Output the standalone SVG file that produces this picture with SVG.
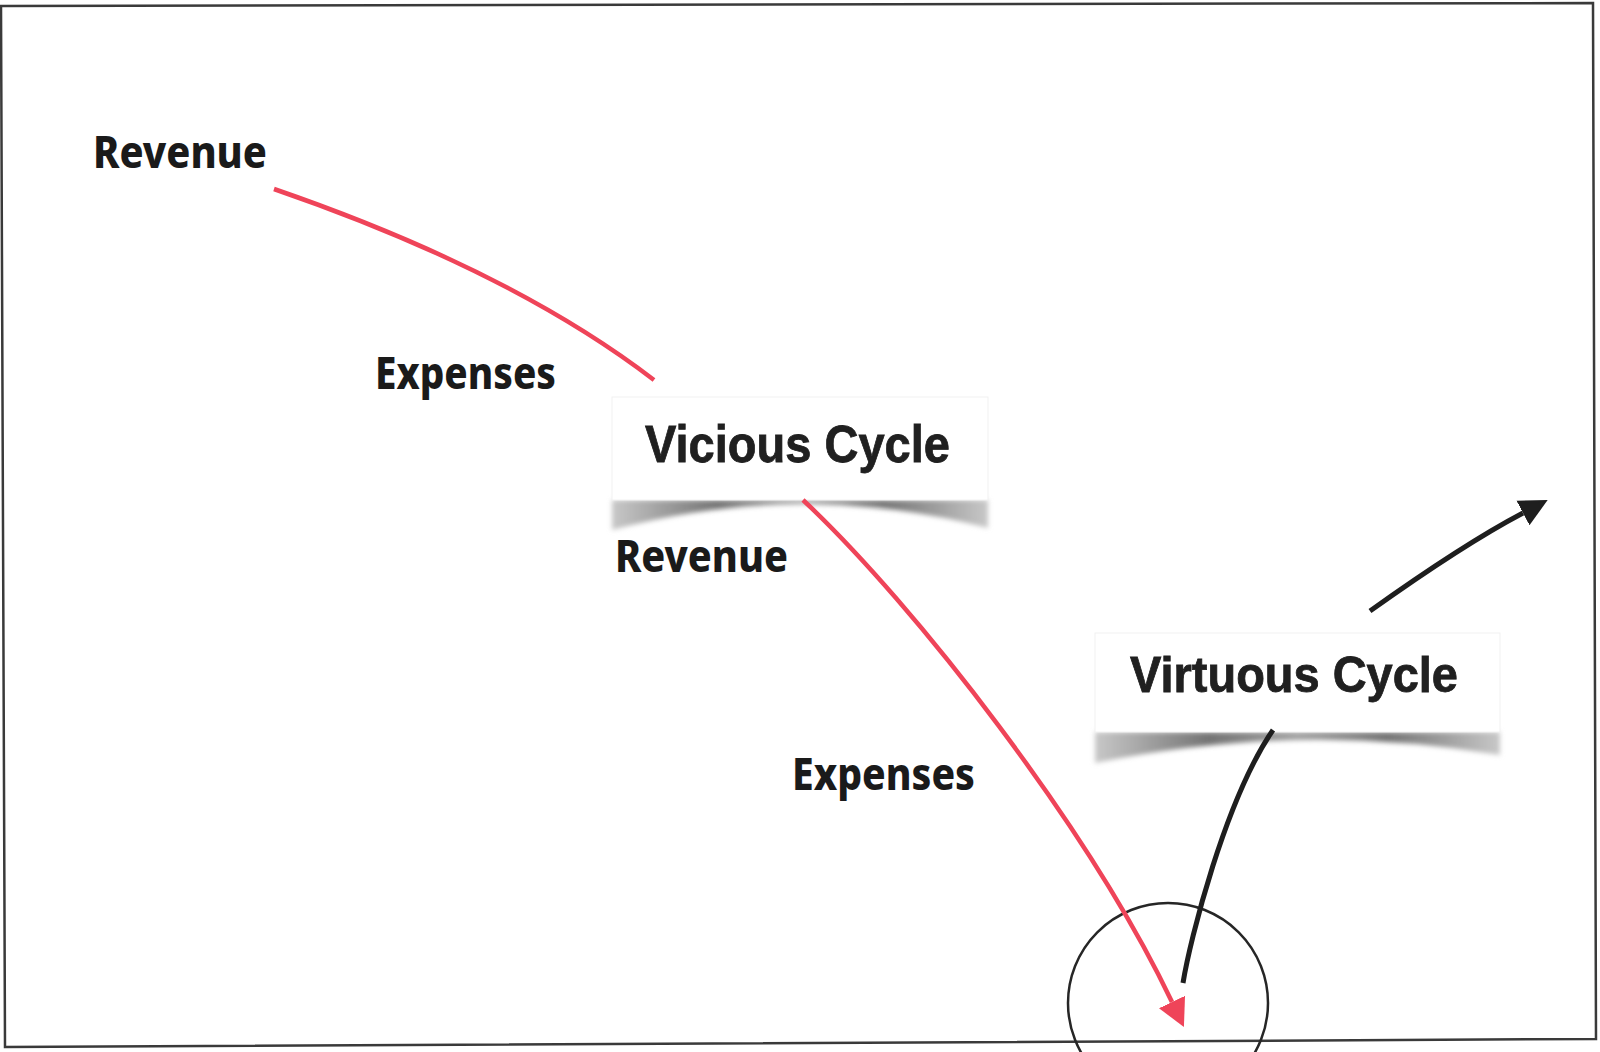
<svg xmlns="http://www.w3.org/2000/svg" width="1600" height="1052" viewBox="0 0 1600 1052">
  <style>
    .lbl { font-family: "Noto Sans", "Open Sans", "DejaVu Sans", sans-serif; font-weight: 800; font-size: 44px; fill: #1a1a1a; }
    .title { font-family: "Liberation Sans", Arial, Helvetica, sans-serif; font-weight: 700; fill: #202020; stroke: #202020; stroke-width: 0.8; }
    .box { fill: #ffffff; stroke: #f1f1f1; stroke-width: 1; }
    .red { fill: none; stroke: #ef4459; stroke-width: 4.5; stroke-linecap: butt; }
    .blk { fill: none; stroke: #1e1e1e; stroke-width: 5; stroke-linecap: butt; }
  </style>
  <defs>
    <linearGradient id="shadowGrad" x1="0" y1="0" x2="1" y2="0">
      <stop offset="0" stop-color="#c8c8c8"/>
      <stop offset="0.28" stop-color="#747474"/>
      <stop offset="0.5" stop-color="#a0a0a0"/>
      <stop offset="0.72" stop-color="#747474"/>
      <stop offset="1" stop-color="#c8c8c8"/>
    </linearGradient>
    <filter id="soft" x="-5%" y="-50%" width="110%" height="200%">
      <feGaussianBlur stdDeviation="2.8"/>
    </filter>
    <marker id="arrowRed" markerUnits="userSpaceOnUse" markerWidth="30" markerHeight="30" refX="0" refY="12.5" orient="auto" viewBox="0 0 26 25">
      <path d="M0,0 L24,12.5 L0,25 Z" fill="#ef4459"/>
    </marker>
    <marker id="arrowBlk" markerUnits="userSpaceOnUse" markerWidth="30" markerHeight="30" refX="0" refY="13" orient="auto" viewBox="0 0 28 26">
      <path d="M0,0 L26,13 L0,26 Z" fill="#1e1e1e"/>
    </marker>
  </defs>

  <rect x="0" y="0" width="1600" height="1052" fill="#ffffff"/>

  <g id="frame">
    <path d="M1,6 L1593,3 L1596,1039 L5,1047 Z" fill="none" stroke="#3a3a3a" stroke-width="2.5"/>
  </g>

  <g id="circle-target">
    <circle cx="1168" cy="1003" r="100" fill="none" stroke="#262626" stroke-width="2.5"/>
  </g>

  <g id="label-revenue-1">
    <text class="lbl" x="93" y="168" textLength="174" lengthAdjust="spacingAndGlyphs">Revenue</text>
  </g>
  <g id="label-expenses-1">
    <text class="lbl" x="375" y="389" textLength="181" lengthAdjust="spacingAndGlyphs">Expenses</text>
  </g>
  <g id="label-revenue-2">
    <text class="lbl" x="615" y="572" textLength="173" lengthAdjust="spacingAndGlyphs">Revenue</text>
  </g>
  <g id="label-expenses-2">
    <text class="lbl" x="792" y="790" textLength="183" lengthAdjust="spacingAndGlyphs">Expenses</text>
  </g>

  <g id="node-vicious-cycle">
    <path d="M612,500 L988,500 L988,528 Q800,479 612,530 Z" fill="url(#shadowGrad)" filter="url(#soft)"/>
    <rect class="box" x="612" y="397" width="376" height="103"/>
    <text class="title" x="645" y="462" font-size="52" textLength="305" lengthAdjust="spacingAndGlyphs">Vicious Cycle</text>
  </g>

  <g id="node-virtuous-cycle">
    <path d="M1095,732 L1500,732 L1500,755 Q1297,721 1095,763 Z" fill="url(#shadowGrad)" filter="url(#soft)"/>
    <rect class="box" x="1095" y="633" width="405" height="99"/>
    <text class="title" x="1130" y="692" font-size="50" textLength="328" lengthAdjust="spacingAndGlyphs">Virtuous Cycle</text>
  </g>

  <g id="connectors">
    <path class="red" d="M274,189 Q512,271 654,380"/>
    <path class="red" d="M803,500 C915,605 1090,830 1172,1002" marker-end="url(#arrowRed)"/>
    <path class="blk" d="M1183,983 C1190,940 1225,800 1273,730"/>
    <path class="blk" d="M1370,611 Q1464,544 1523,513" marker-end="url(#arrowBlk)"/>
  </g>
</svg>
